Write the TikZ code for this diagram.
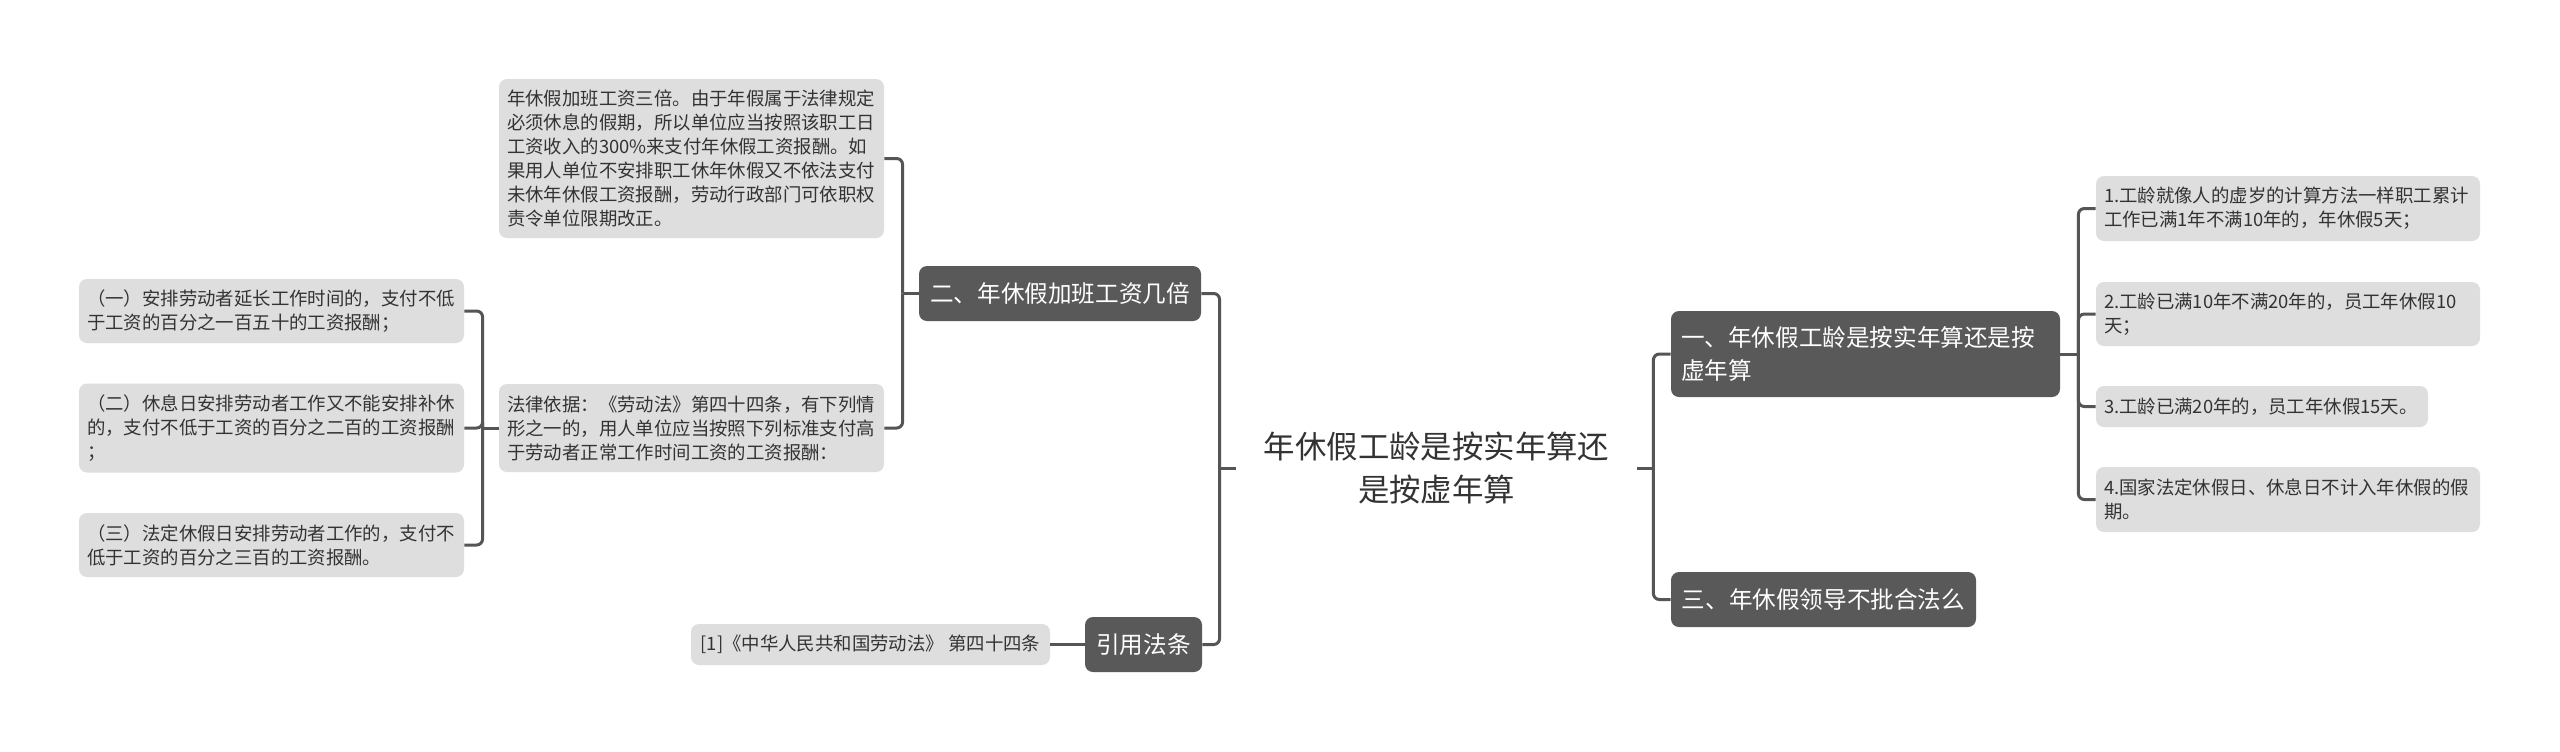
\documentclass[tikz,border=0pt]{standalone}
\usepackage{fontspec}
\setmainfont{Noto Sans CJK SC}
\usetikzlibrary{calc}
\definecolor{darkc}{HTML}{595959}
\definecolor{leafc}{HTML}{DEDEDE}
\definecolor{linec}{HTML}{555555}
\definecolor{txt}{HTML}{333333}
\begin{document}
\begin{tikzpicture}[x=0.5pt,y=-0.5pt,
  leafbox/.style={fill=leafc, rounded corners=4pt, text=txt, font=\fontsize{9.2pt}{12pt}\selectfont, align=left, inner xsep=4pt, inner ysep=2pt},
  mainbox/.style={fill=darkc, rounded corners=4pt, text=white, font=\fontsize{11.8pt}{16.5pt}\selectfont, inner sep=0pt},
  conn/.style={draw=linec, line width=1.5pt, rounded corners=3pt}]
\fill[white] (0,0) rectangle (2560,751);
\useasboundingbox (0,0) rectangle (2560,751);

% root
\node[font=\fontsize{15.7pt}{21.5pt}\selectfont, text=txt, align=center, minimum width=200.5pt, inner sep=0pt] (root) at (1436.5,468) {年休假工龄是按实年算还\\是按虚年算};

% main branches
\node[mainbox, minimum width=141pt, minimum height=27.5pt] (n2) at (1060,293.5) {二、年休假加班工资几倍};
\node[mainbox, minimum width=58.5pt, minimum height=27.5pt] (ref) at (1143.5,644.5) {引用法条};
\node[mainbox, minimum height=43pt, text width=184.5pt, align=left, inner xsep=5pt] (n1) at (1865.5,354) {一、年休假工龄是按实年算还是按\\虚年算};
\node[mainbox, minimum width=152.5pt, minimum height=27.5pt] (n3) at (1823.5,599.5) {三、年休假领导不批合法么};

% left leaves
\node[leafbox, text width=184.5pt, minimum height=79.5pt] (t1) at (691.5,158.5) {年休假加班工资三倍。由于年假属于法律规定\\必须休息的假期，所以单位应当按照该职工日\\工资收入的300\%来支付年休假工资报酬。如\\果用人单位不安排职工休年休假又不依法支付\\未休年休假工资报酬，劳动行政部门可依职权\\责令单位限期改正。};
\node[leafbox, text width=184.5pt, minimum height=44pt] (law) at (691.5,428) {法律依据：《劳动法》第四十四条，有下列情\\形之一的，用人单位应当按照下列标准支付高\\于劳动者正常工作时间工资的工资报酬：};
\node[leafbox, text width=184.5pt, minimum height=32pt] (c1) at (271.5,311) {（一）安排劳动者延长工作时间的，支付不低\\于工资的百分之一百五十的工资报酬；};
\node[leafbox, text width=184.5pt, minimum height=44.5pt] (c2) at (271.5,428) {（二）休息日安排劳动者工作又不能安排补休\\的，支付不低于工资的百分之二百的工资报酬\\；};
\node[leafbox, text width=184.5pt, minimum height=32pt] (c3) at (271.5,545) {（三）法定休假日安排劳动者工作的，支付不\\低于工资的百分之三百的工资报酬。};
\node[leafbox, align=center, minimum width=179.5pt, minimum height=20.5pt, inner xsep=0pt] (cite) at (870.5,644.5) {[1]《中华人民共和国劳动法》 第四十四条};

% right leaves
\node[leafbox, text width=184pt, minimum height=32.5pt] (r1) at (2288,208.5) {1.工龄就像人的虚岁的计算方法一样职工累计\\工作已满1年不满10年的，年休假5天；};
\node[leafbox, text width=184pt, minimum height=32pt] (r2) at (2288,314) {2.工龄已满10年不满20年的，员工年休假10\\天；};
\node[leafbox, text width=158pt, minimum height=20.5pt] (r3) at (2262,406.5) {3.工龄已满20年的，员工年休假15天。};
\node[leafbox, text width=184pt, minimum height=32.5pt] (r4) at (2288,499.5) {4.国家法定休假日、休息日不计入年休假的假\\期。};

% connectors
\coordinate (rl) at ($(root.west)+(-16,0)$);
\draw[conn] (root.west) -- (rl);
\draw[conn] (n2.east) -| (rl);
\draw[conn] (ref.east) -| (rl);

\coordinate (rr) at ($(root.east)+(16,0)$);
\draw[conn] (root.east) -- (rr);
\draw[conn] (n1.west) -| (rr);
\draw[conn] (n3.west) -| (rr);

\coordinate (n2l) at ($(n2.west)+(-16,0)$);
\draw[conn] (n2.west) -- (n2l);
\draw[conn] (t1.east) -| (n2l);
\draw[conn] (law.east) -| (n2l);

\coordinate (lawl) at ($(law.west)+(-16,0)$);
\draw[conn] (law.west) -- (lawl);
\draw[conn] (c1.east) -| (lawl);
\draw[conn] (c2.east) -| (lawl);
\draw[conn] (c3.east) -| (lawl);

\draw[conn] (ref.west) -- (cite.east);

\coordinate (n1r) at ($(n1.east)+(18,0)$);
\draw[conn] (n1.east) -- (n1r);
\draw[conn] (r1.west) -| (n1r);
\draw[conn] (r2.west) -| (n1r);
\draw[conn] (r3.west) -| (n1r);
\draw[conn] (r4.west) -| (n1r);
\end{tikzpicture}
\end{document}
